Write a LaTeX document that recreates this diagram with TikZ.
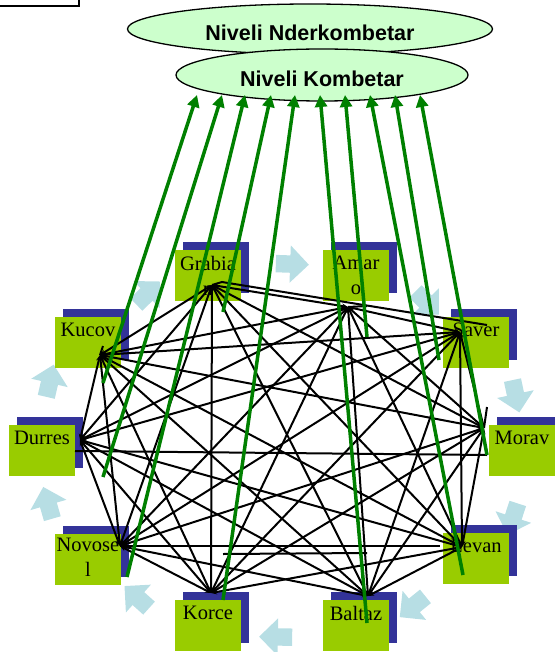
\documentclass[tikz,border=0pt]{standalone}
\usepackage{fontspec}
\setmainfont{Liberation Serif}
\newfontfamily\tierfont{Liberation Sans}
\usetikzlibrary{arrows.meta,shapes.geometric,shapes.arrows}

\definecolor{boxgreen}{RGB}{153,204,0}
\definecolor{boxblue}{RGB}{51,51,153}
\definecolor{tiergreen}{RGB}{204,255,204}
\definecolor{linkgreen}{RGB}{0,128,0}
\definecolor{ringblue}{RGB}{183,222,228}

\begin{document}
\begin{tikzpicture}[x=1pt,y=-1pt,
  citybox/.style={fill=boxgreen},
  cityshadow/.style={fill=boxblue},
  city/.style={anchor=north, inner sep=0pt, align=center, font=\fontsize{20.5}{25}\selectfont},
  tier/.style={ellipse, draw, line width=1.3pt, fill=tiergreen, inner sep=0pt, text height=24pt, text depth=0pt, font=\tierfont\bfseries\fontsize{21.5}{24}\selectfont},
  mesh/.style={line width=2pt, {Stealth[length=6pt,width=5pt]}-{Stealth[length=6pt,width=5pt]}},
  plain/.style={line width=2pt},
  uplink/.style={linkgreen, line width=3.5pt, -{Triangle[length=12pt,width=12pt]}},
  ringarrow/.style={single arrow, fill=ringblue, draw=none, inner sep=8.5pt, minimum height=33pt, single arrow head extend=10pt}
]
\useasboundingbox (0,0) rectangle (554,652);

  % Box in the corner
  \draw[line width=1.5pt] (-5,-5) rectangle (79,6);

  % The two levels
  \node[tier, minimum width=365pt, minimum height=50pt] (nder) at (310,29) {Niveli Nderkombetar};
  \node[tier, minimum width=292pt, minimum height=52pt] (komb) at (322,75) {Niveli Kombetar};

  % Light blue arrows round the ring
  \node[ringarrow, rotate=-2] (r1) at (288,264) {};
  \node[ringarrow, rotate=-45] (r2) at (424,300) {};
  \node[ringarrow, rotate=-78] (r3) at (515,392) {};
  \node[ringarrow, rotate=-108] (r4) at (514,515) {};
  \node[ringarrow, rotate=-141] (r5) at (416,604) {};
  \node[ringarrow, rotate=179] (r6) at (280,637) {};
  \node[ringarrow, rotate=138] (r7) at (140,600) {};
  \node[ringarrow, rotate=106] (r8) at (49,507) {};
  \node[ringarrow, rotate=77] (r9) at (49,385) {};
  \node[ringarrow, rotate=44] (r10) at (145,296) {};

  % Grabian
  \fill[cityshadow] (183,242) rectangle +(66,51);
  \fill[citybox] (175,250) rectangle +(66,51);
  \node[city] (grabia) at (208,256) {Grabia\\n};
  % Amaro
  \fill[cityshadow] (331,242) rectangle +(66,51);
  \fill[citybox] (323,250) rectangle +(66,51);
  \node[city] (amaro) at (356,256) {Amar\\o};
  % Kucov
  \fill[cityshadow] (63,309) rectangle +(66,51);
  \fill[citybox] (55,317) rectangle +(66,51);
  \node[city] (kucov) at (88,323) {Kucov};
  % Saver
  \fill[cityshadow] (451,309) rectangle +(66,51);
  \fill[citybox] (443,317) rectangle +(66,51);
  \node[city] (saver) at (476,323) {Saver};
  % Durres
  \fill[cityshadow] (17,417) rectangle +(66,51);
  \fill[citybox] (9,425) rectangle +(66,51);
  \node[city] (durres) at (42,431) {Durres};
  % Morav
  \fill[cityshadow] (497,417) rectangle +(66,51);
  \fill[citybox] (489,425) rectangle +(66,51);
  \node[city] (morav) at (522,431) {Morav};
  % Novosel
  \fill[cityshadow] (63,526) rectangle +(66,51);
  \fill[citybox] (55,534) rectangle +(66,51);
  \node[city] (novosel) at (88,538) {Novose\\l};
  % Levan
  \fill[cityshadow] (451,525) rectangle +(66,51);
  \fill[citybox] (443,533) rectangle +(66,51);
  \node[city] (levan) at (476,539) {Levan};
  % Korce
  \fill[cityshadow] (183,592) rectangle +(66,51);
  \fill[citybox] (175,600) rectangle +(66,51);
  \node[city] (korce) at (208,606) {Korce};
  % Baltaz
  \fill[cityshadow] (331,592) rectangle +(66,51);
  \fill[citybox] (323,600) rectangle +(66,51);
  \node[city] (baltaz) at (356,606) {Baltaz};

  % Hubs where the links meet
  \coordinate (hG) at (212,285);
  \coordinate (hA) at (348,307);
  \coordinate (hK) at (100,355);
  \coordinate (hS) at (460,332);
  \coordinate (hD) at (80,440);
  \coordinate (hM) at (484,428);
  \coordinate (hN) at (120,546);
  \coordinate (hL) at (462,547);
  \coordinate (hC) at (211,593);
  \coordinate (hB) at (368,596);

  % Links between the cities
  \draw[mesh] (hG) -- (hK); \draw[mesh] (hG) -- (hA); \draw[mesh] (hG) -- (hM);
  \draw[mesh] (hG) -- (hL); \draw[mesh] (hG) -- (hB); \draw[mesh] (hG) -- (hC);
  \draw[mesh] (hG) -- (hN); \draw[mesh] (hG) -- (hD);
  \draw[mesh] (hK) -- (hA); \draw[mesh] (hK) -- (hS); \draw[mesh] (hK) -- (hM);
  \draw[mesh] (hK) -- (hL); \draw[mesh] (hK) -- (hB); \draw[mesh] (hK) -- (hC);
  \draw[mesh] (hK) -- (hN); \draw[mesh] (hK) -- (hD);
  \draw[mesh] (hA) -- (hS); \draw[mesh] (hA) -- (hM); \draw[mesh] (hA) -- (hL);
  \draw[mesh] (hA) -- (hB); \draw[mesh] (hA) -- (hC); \draw[mesh] (hA) -- (hN);
  \draw[mesh] (hA) -- (hD);
  \draw[mesh] (hS) -- (hM); \draw[mesh] (hS) -- (hL); \draw[mesh] (hS) -- (hB);
  \draw[mesh] (hS) -- (hC); \draw[mesh] (hS) -- (hN); \draw[mesh] (hS) -- (hD);
  \draw[mesh] (hM) -- (hL); \draw[mesh] (hM) -- (hB); \draw[mesh] (hM) -- (hC);
  \draw[mesh] (hM) -- (hN);
  \draw[mesh] (hL) -- (hB); \draw[mesh] (hL) -- (hC); \draw[mesh] (hL) -- (hD);
  \draw[mesh] (hB) -- (hN); \draw[mesh] (hB) -- (hD);
  \draw[mesh] (hC) -- (hN); \draw[mesh] (hC) -- (hD);
  \draw[mesh] (hN) -- (hD);

  % Odd lines
  \coordinate (gBend) at (222,282);
  \coordinate (sEnd) at (487,325);
  \draw[plain] (hG) -- (gBend) -- (sEnd);
  \coordinate (dStart) at (75,451);
  \coordinate (mEnd) at (487,455);
  \draw[plain] (dStart) -- (mEnd);
  \coordinate (lEnd) at (440,546);
  \draw[plain] (hN) -- (lEnd);
  \coordinate (cStart) at (223,554);
  \coordinate (bEnd) at (367,553);
  \draw[plain] (cStart) -- (bEnd);
  \coordinate (kTick) at (103,346);
  \draw[plain] (kTick) -- (hK);
  \coordinate (aTick) at (367,306);
  \draw[plain] (hA) -- (aTick);
  \coordinate (mTick) at (487,407);
  \draw[plain] (mTick) -- (hM);

  % Green links up to the national level
  \coordinate (u1) at (197,95);  \coordinate (d1) at (103,383);
  \coordinate (u2) at (222,95);  \coordinate (d2) at (103,477);
  \coordinate (u3) at (245,95);  \coordinate (d3) at (127,577);
  \coordinate (u4) at (271,95);  \coordinate (d4) at (223,312);
  \coordinate (u5) at (295,95);  \coordinate (d5) at (223,600);
  \coordinate (u6) at (320,95);  \coordinate (d6) at (367,623);
  \coordinate (u7) at (345,95);  \coordinate (d7) at (367,337);
  \coordinate (u8) at (370,95);  \coordinate (d8) at (463,575);
  \coordinate (u9) at (395,95);  \coordinate (d9) at (439,360);
  \coordinate (u10) at (420,95); \coordinate (d10) at (487,455);
  \draw[uplink] (d1) -- (u1);
  \draw[uplink] (d2) -- (u2);
  \draw[uplink] (d3) -- (u3);
  \draw[uplink] (d4) -- (u4);
  \draw[uplink] (d5) -- (u5);
  \draw[uplink] (d6) -- (u6);
  \draw[uplink] (d7) -- (u7);
  \draw[uplink] (d8) -- (u8);
  \draw[uplink] (d9) -- (u9);
  \draw[uplink] (d10) -- (u10);

\end{tikzpicture}
\end{document}
